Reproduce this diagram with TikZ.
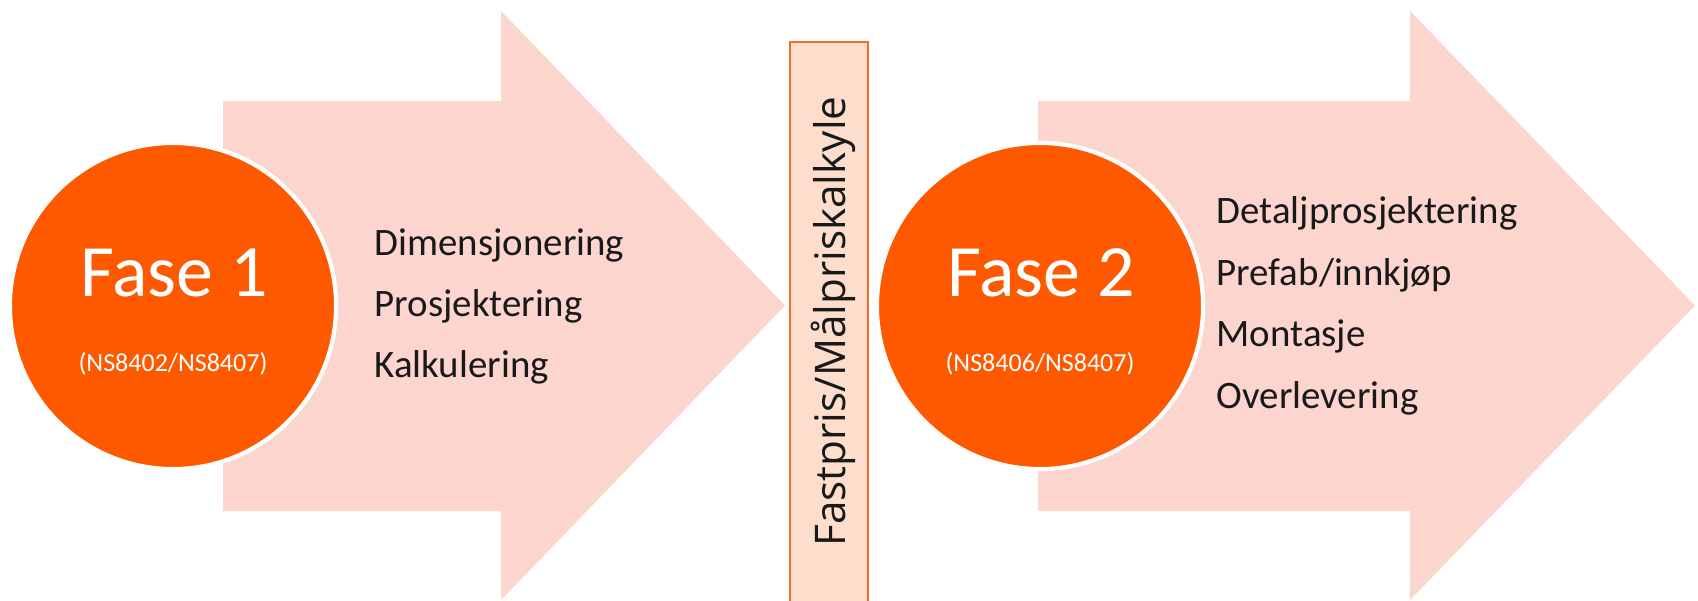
\documentclass[tikz,border=0pt]{standalone}
\usepackage{fontspec}
\setmainfont{Carlito}
\newfontfamily\barfont{Open Sans}
\definecolor{arrowpink}{RGB}{252,213,206}
\definecolor{phaseorange}{RGB}{255,89,0}
\definecolor{barfill}{RGB}{253,221,204}
\definecolor{barline}{RGB}{242,110,40}
\definecolor{listtext}{RGB}{25,25,25}
\begin{document}
\begin{tikzpicture}[x=0.01cm,y=-0.01cm,
  bigarrow/.style={fill=arrowpink,draw=none},
  phase/.style={circle,fill=phaseorange,draw=white,line width=1.2pt,minimum size=3.26cm,inner sep=0pt},
  phasetitle/.style={anchor=base,text=white,font=\fontsize{21}{24}\selectfont,inner sep=0pt},
  phasenorm/.style={anchor=base,text=white,font=\fontsize{7.4}{9}\selectfont,inner sep=0pt},
  listitem/.style={anchor=base west,text=listtext,font=\fontsize{11.05}{13}\selectfont,inner sep=0pt},
  gate/.style={fill=barfill,draw=barline,line width=0.6pt}]
\useasboundingbox (0,0) rectangle (1698,600);

% first phase arrow
\fill[bigarrow] (223,101) -- (501,101) -- (501,11) -- (785,305.5) -- (501,600) -- (501,511) -- (223,511) -- cycle;
% second phase arrow
\fill[bigarrow] (1038,101) -- (1410,101) -- (1410,11) -- (1695,305.5) -- (1410,600) -- (1410,511) -- (1038,511) -- cycle;

% contract gate between the phases
\draw[gate] (790,42) rectangle (868,610);
\node[rotate=90,anchor=base,inner sep=0pt,text=listtext,font=\barfont\fontsize{12}{14}\selectfont] (gate) at (845,321.5) {Fastpris/Målpriskalkyle};

% phase circles
\node[phase] (p1) at (173,306) {};
\node[phase] (p2) at (1040,306) {};

\node[phasetitle] (t1) at (174,296) {Fase 1};
\node[phasenorm] (n1) at (173,371) {(NS8402/NS8407)};
\node[phasetitle] (t2) at (1041,296) {Fase 2};
\node[phasenorm] (n2) at (1040,371) {(NS8406/NS8407)};

% activities, phase 1
\node[listitem] (a1) at (374,255) {Dimensjonering};
\node[listitem] (a2) at (374,316) {Prosjektering};
\node[listitem] (a3) at (374,377) {Kalkulering};

% activities, phase 2
\node[listitem] (b1) at (1216,223) {Detaljprosjektering};
\node[listitem] (b2) at (1216,285) {Prefab/innkjøp};
\node[listitem] (b3) at (1216,346) {Montasje};
\node[listitem] (b4) at (1216,408) {Overlevering};
\end{tikzpicture}
\end{document}
